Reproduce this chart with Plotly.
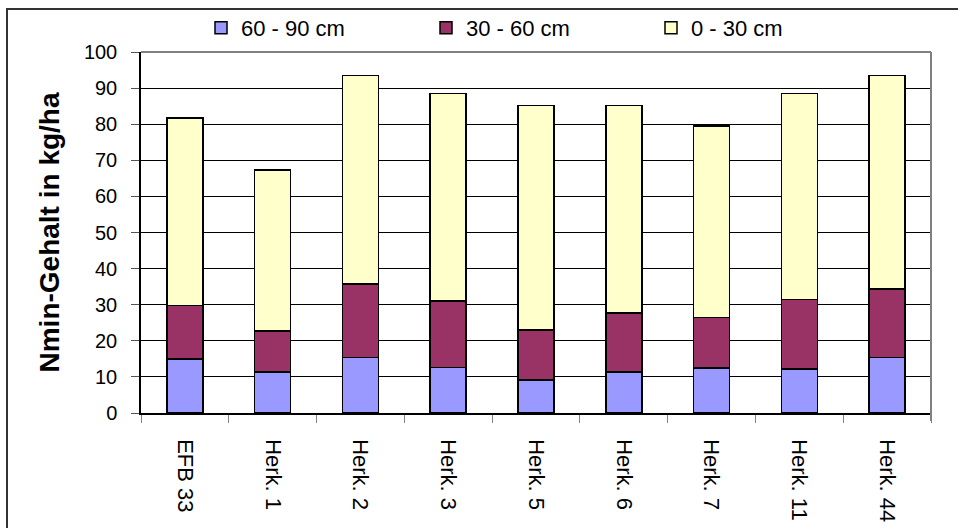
import plotly.graph_objects as go

categories = ["EFB 33", "Herk. 1", "Herk. 2", "Herk. 3", "Herk. 5", "Herk. 6", "Herk. 7", "Herk. 11", "Herk. 44"]
depth_60_90 = [14.9, 11.4, 15.4, 12.6, 9.2, 11.4, 12.5, 12.2, 15.4]
depth_30_60 = [14.9, 11.3, 20.4, 18.4, 13.8, 16.3, 14.0, 19.3, 18.9]
depth_0_30 = [51.9, 44.6, 57.7, 57.5, 62.2, 57.5, 53.0, 57.0, 59.2]
series_names = ["60 - 90 cm", "30 - 60 cm", "0 - 30 cm"]
series_colors = ["#9999FF", "#993366", "#FFFFCC"]
y_ticks = list(range(0, 101, 10))

L, R, T, B = 141, 27, 52, 115
W, H = 958, 528
pw, ph = W - L - R, H - T - B

fig = go.Figure()
for name, vals, col in zip(series_names, [depth_60_90, depth_30_60, depth_0_30], series_colors):
    fig.add_trace(go.Bar(
        x=categories, y=vals, name=name,
        marker=dict(color=col, line=dict(color="black", width=1.5)),
    ))

fig.update_layout(
    barmode="stack",
    bargap=0.59,
    width=W, height=H,
    margin=dict(l=L, r=R, t=T, b=B, autoexpand=False),
    paper_bgcolor="white",
    plot_bgcolor="white",
    font=dict(family="Liberation Sans, Arial, sans-serif", size=20, color="black"),
    legend=dict(
        orientation="h",
        x=201 / W, xref="container", xanchor="left",
        y=1 - 28 / H, yref="container", yanchor="middle",
        entrywidth=180, entrywidthmode="pixels",
        font=dict(size=22),
        bgcolor="rgba(0,0,0,0)",
        itemclick=False, itemdoubleclick=False,
        traceorder="normal",
    ),
    showlegend=True,
    xaxis=dict(
        type="category",
        tickangle=90,
        tickson="boundaries",
        ticks="outside", ticklen=8, tickcolor="#808080",
        ticklabelstandoff=20,
        showline=True, linecolor="black", linewidth=1.5,
        showgrid=False,
        tickfont=dict(size=22),
    ),
    yaxis=dict(
        range=[0, 100],
        tickvals=y_ticks,
        ticks="outside", ticklen=8, tickcolor="#555555",
        ticklabelstandoff=10,
        showline=True, linecolor="black", linewidth=1.5,
        showgrid=True, gridcolor="black", gridwidth=1,
        zeroline=False,
        tickfont=dict(size=20),
        title=dict(text="<b>Nmin-Gehalt in kg/ha</b>", font=dict(size=28), standoff=16),
    ),
    shapes=[
        dict(type="line", xref="paper", yref="paper", x0=0, x1=1, y0=1, y1=1,
             line=dict(color="#808080", width=2)),
        dict(type="line", xref="paper", yref="paper", x0=1, x1=1, y0=-8 / ph, y1=1,
             line=dict(color="#808080", width=2)),
        dict(type="rect", xref="paper", yref="paper",
             x0=(7 - L) / pw, x1=1.2, y0=-1, y1=(H - B - 9) / ph,
             line=dict(color="#333333", width=2), fillcolor="rgba(0,0,0,0)", layer="above"),
    ],
)

fig.write_html("out.html")
